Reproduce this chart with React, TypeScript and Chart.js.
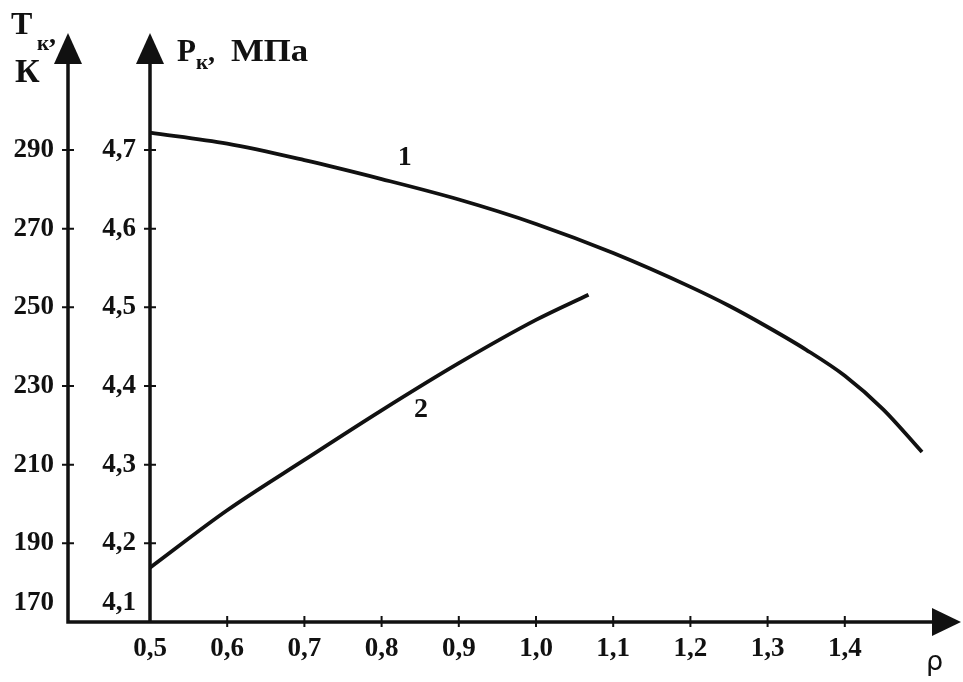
import React, { useEffect, useRef } from "react";
import { Chart, registerables } from "chart.js";

Chart.register(...registerables);

// ---- data ----
const rho1 = [0.5, 0.6, 0.7, 0.8, 0.9, 1.0, 1.1, 1.2, 1.25, 1.3, 1.35, 1.4, 1.45, 1.5];
const curve1 = [4.722, 4.708, 4.687, 4.663, 4.637, 4.606, 4.569, 4.526, 4.502, 4.475, 4.446, 4.413, 4.370, 4.316];
const rho2 = [0.5, 0.6, 0.7, 0.8, 0.9, 1.0, 1.068];
const curve2 = [4.169, 4.242, 4.306, 4.369, 4.429, 4.484, 4.516];

const xTicks = [0.5, 0.6, 0.7, 0.8, 0.9, 1.0, 1.1, 1.2, 1.3, 1.4];
const pTicks = [4.1, 4.2, 4.3, 4.4, 4.5, 4.6, 4.7];
const tTicks = [170, 190, 210, 230, 250, 270, 290];

const curveLabels = ["1", "2"];
const curveLabelRho = [0.83, 0.851];
const curveLabelP = [4.69, 4.37];

const fmt = (v: number, d: number) => v.toFixed(d).replace(".", ",");

const SERIF = '"Liberation Serif", "DejaVu Serif", serif';

const axesPlugin = {
  id: "handAxes",
  afterDatasetsDraw(chart: any) {
    const ctx: CanvasRenderingContext2D = chart.ctx;
    const xs = chart.scales.x;
    const ys = chart.scales.y;
    const ts = chart.scales.y2;
    const ink = "#111";
    const axisY = ys.getPixelForValue(4.1);
    const pX = xs.getPixelForValue(0.5);
    const tX = 68;
    const top = 33;
    const rightTip = 961;

    ctx.save();
    ctx.strokeStyle = ink;
    ctx.fillStyle = ink;
    ctx.lineWidth = 3.5;
    ctx.lineCap = "butt";

    // axes lines
    ctx.beginPath();
    ctx.moveTo(tX, axisY + 1.75);
    ctx.lineTo(tX, top + 20);
    ctx.moveTo(pX, axisY + 1.75);
    ctx.lineTo(pX, top + 20);
    ctx.moveTo(tX - 1.75, axisY);
    ctx.lineTo(rightTip - 20, axisY);
    ctx.stroke();

    // arrows
    const arrowUp = (x: number) => {
      ctx.beginPath();
      ctx.moveTo(x, top);
      ctx.lineTo(x - 14, top + 31);
      ctx.lineTo(x + 14, top + 31);
      ctx.closePath();
      ctx.fill();
    };
    arrowUp(tX);
    arrowUp(pX);
    ctx.beginPath();
    ctx.moveTo(rightTip, axisY);
    ctx.lineTo(rightTip - 29, axisY - 14);
    ctx.lineTo(rightTip - 29, axisY + 14);
    ctx.closePath();
    ctx.fill();

    // tick marks
    ctx.lineWidth = 2;
    ctx.beginPath();
    xTicks.forEach((v) => {
      if (v === 0.5) return;
      const x = xs.getPixelForValue(v);
      ctx.moveTo(x, axisY - 6);
      ctx.lineTo(x, axisY + 5);
    });
    pTicks.forEach((v) => {
      if (v === 4.1) return;
      const y = ys.getPixelForValue(v);
      ctx.moveTo(pX - 6, y);
      ctx.lineTo(pX + 6, y);
    });
    tTicks.forEach((v) => {
      if (v === 170) return;
      const y = ts.getPixelForValue(v);
      ctx.moveTo(tX - 6, y);
      ctx.lineTo(tX + 6, y);
    });
    ctx.stroke();

    // tick labels
    ctx.font = `bold 27px ${SERIF}`;
    ctx.textBaseline = "middle";
    ctx.textAlign = "center";
    xTicks.forEach((v) => {
      ctx.fillText(fmt(v, 1), xs.getPixelForValue(v), axisY + 27);
    });
    ctx.textAlign = "right";
    pTicks.forEach((v) => {
      let y = ys.getPixelForValue(v);
      if (v === 4.1) y -= 19;
      ctx.fillText(fmt(v, 1), pX - 14, y);
    });
    tTicks.forEach((v) => {
      let y = ts.getPixelForValue(v);
      if (v === 170) y -= 19;
      ctx.fillText(String(v), tX - 14, y);
    });

    // axis titles
    ctx.textBaseline = "alphabetic";
    ctx.textAlign = "left";
    ctx.font = `bold 32px ${SERIF}`;
    ctx.fillText("T", 11, 34);
    ctx.font = `bold 21px ${SERIF}`;
    ctx.fillText("к", 37, 50);
    ctx.font = `bold 28px ${SERIF}`;
    ctx.fillText(",", 49, 43);
    ctx.font = `bold 34px ${SERIF}`;
    ctx.fillText("К", 15, 82);

    ctx.font = `bold 31px ${SERIF}`;
    ctx.fillText("P", 177, 61);
    ctx.font = `bold 21px ${SERIF}`;
    ctx.fillText("к", 196, 69);
    ctx.font = `bold 28px ${SERIF}`;
    ctx.fillText(",", 208, 61);
    ctx.font = `bold 31px ${SERIF}`;
    ctx.save();
    ctx.translate(231, 61);
    ctx.scale(1.12, 1);
    ctx.fillText("МПа", 0, 0);
    ctx.restore();

    ctx.font = `27px "DejaVu Sans", sans-serif`;
    ctx.fillText("ρ", 926, 670);

    // curve labels
    ctx.font = `bold 28px ${SERIF}`;
    ctx.textAlign = "center";
    ctx.textBaseline = "middle";
    curveLabels.forEach((s, i) => {
      ctx.fillText(s, xs.getPixelForValue(curveLabelRho[i]), ys.getPixelForValue(curveLabelP[i]));
    });

    ctx.restore();
  },
};

export default function App() {
  const ref = useRef<HTMLCanvasElement | null>(null);

  useEffect(() => {
    if (!ref.current) return;
    const chart = new Chart(ref.current, {
      type: "line",
      data: {
        datasets: [
          {
            label: "1",
            data: rho1.map((x, i) => ({ x, y: curve1[i] })),
            borderColor: "#111",
            borderWidth: 3.8,
            pointRadius: 0,
            cubicInterpolationMode: "monotone",
            fill: false,
            clip: false as any,
          },
          {
            label: "2",
            data: rho2.map((x, i) => ({ x, y: curve2[i] })),
            borderColor: "#111",
            borderWidth: 3.8,
            pointRadius: 0,
            cubicInterpolationMode: "monotone",
            fill: false,
            clip: false as any,
          },
        ],
      },
      options: {
        responsive: false,
        animation: false,
        devicePixelRatio: 1,
        layout: { padding: { left: 150, right: 41, top: 71.3, bottom: 60 } },
        plugins: { legend: { display: false }, tooltip: { enabled: false } },
        events: [],
        scales: {
          x: { type: "linear", min: 0.5, max: 1.5, display: false },
          y: { type: "linear", min: 4.1, max: 4.8, display: false },
          y2: { type: "linear", min: 170, max: 310, display: false },
        },
      },
      plugins: [axesPlugin],
    });
    return () => chart.destroy();
  }, []);

  return (
    <div style={{ position: "fixed", left: 0, top: 0, width: 963, height: 682, background: "#fff" }}>
      <canvas ref={ref} width={963} height={682} style={{ display: "block" }} />
    </div>
  );
}
